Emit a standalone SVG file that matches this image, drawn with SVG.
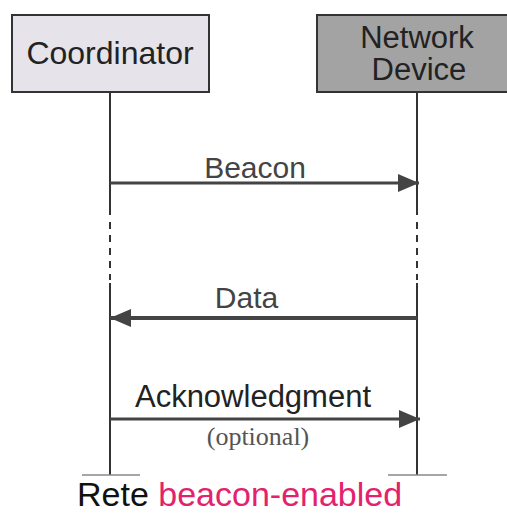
<svg xmlns="http://www.w3.org/2000/svg" width="507" height="513" viewBox="0 0 507 513">
<style>
.box{stroke:#333;stroke-width:2}
.lbl{font-family:"Liberation Sans",Arial,sans-serif;text-anchor:middle}
.life{stroke:#333;stroke-width:2;fill:none}
.dash{stroke:#333;stroke-width:2;stroke-dasharray:7,6;fill:none}
.foot{stroke:#888;stroke-width:1.5}
.msg{stroke:#444;stroke-width:3;fill:none;marker-end:url(#head)}
</style>
<defs>
<marker id="head" markerUnits="userSpaceOnUse" markerWidth="22" markerHeight="20" refX="21" refY="10" orient="auto">
<path d="M0,1 L21,10 L0,19 z" fill="#444"/>
</marker>
</defs>
<rect width="507" height="513" fill="#fff"/>
<g id="coordinator">
<rect class="box" x="12" y="15" width="197" height="77" fill="#e6e3ea"/>
<text class="lbl" x="110" y="64" font-size="32" fill="#222">Coordinator</text>
</g>
<g id="network-device">
<rect class="box" x="317" y="15" width="200" height="77" fill="#a3a3a3"/>
<text class="lbl" x="417" y="48" font-size="31" fill="#222">Network</text>
<text class="lbl" x="419" y="80" font-size="31" fill="#222">Device</text>
</g>
<g id="connectors">
<path class="life" d="M110,92 V215 M110,283 V475"/>
<path class="dash" d="M110,222 V280"/>
<path class="life" d="M417,92 V215 M417,283 V475"/>
<path class="dash" d="M417,222 V280"/>
<line class="foot" x1="82" y1="475" x2="140" y2="475"/>
<line class="foot" x1="388" y1="475" x2="447" y2="475"/>
<line class="msg" x1="110" y1="183" x2="419" y2="183"/>
<line class="msg" x1="417" y1="318" x2="110" y2="318" style="stroke-width:4"/>
<line class="msg" x1="110" y1="419" x2="420" y2="419"/>
</g>
<g id="labels">
<text class="lbl" x="255" y="178" font-size="30" fill="#444">Beacon</text>
<text class="lbl" x="246.5" y="308" font-size="30" fill="#444">Data</text>
<text class="lbl" x="253" y="407" font-size="31" fill="#222">Acknowledgment</text>
<text x="258" y="445" font-size="26" fill="#555" text-anchor="middle" font-family="'Liberation Serif','Times New Roman',serif">(optional)</text>
</g>
<g id="caption">
<text x="77" y="506" font-size="34" font-family="'Liberation Sans',Arial,sans-serif" fill="#111">Rete <tspan fill="#e3226d">beacon-enabled</tspan></text>
</g>
</svg>
